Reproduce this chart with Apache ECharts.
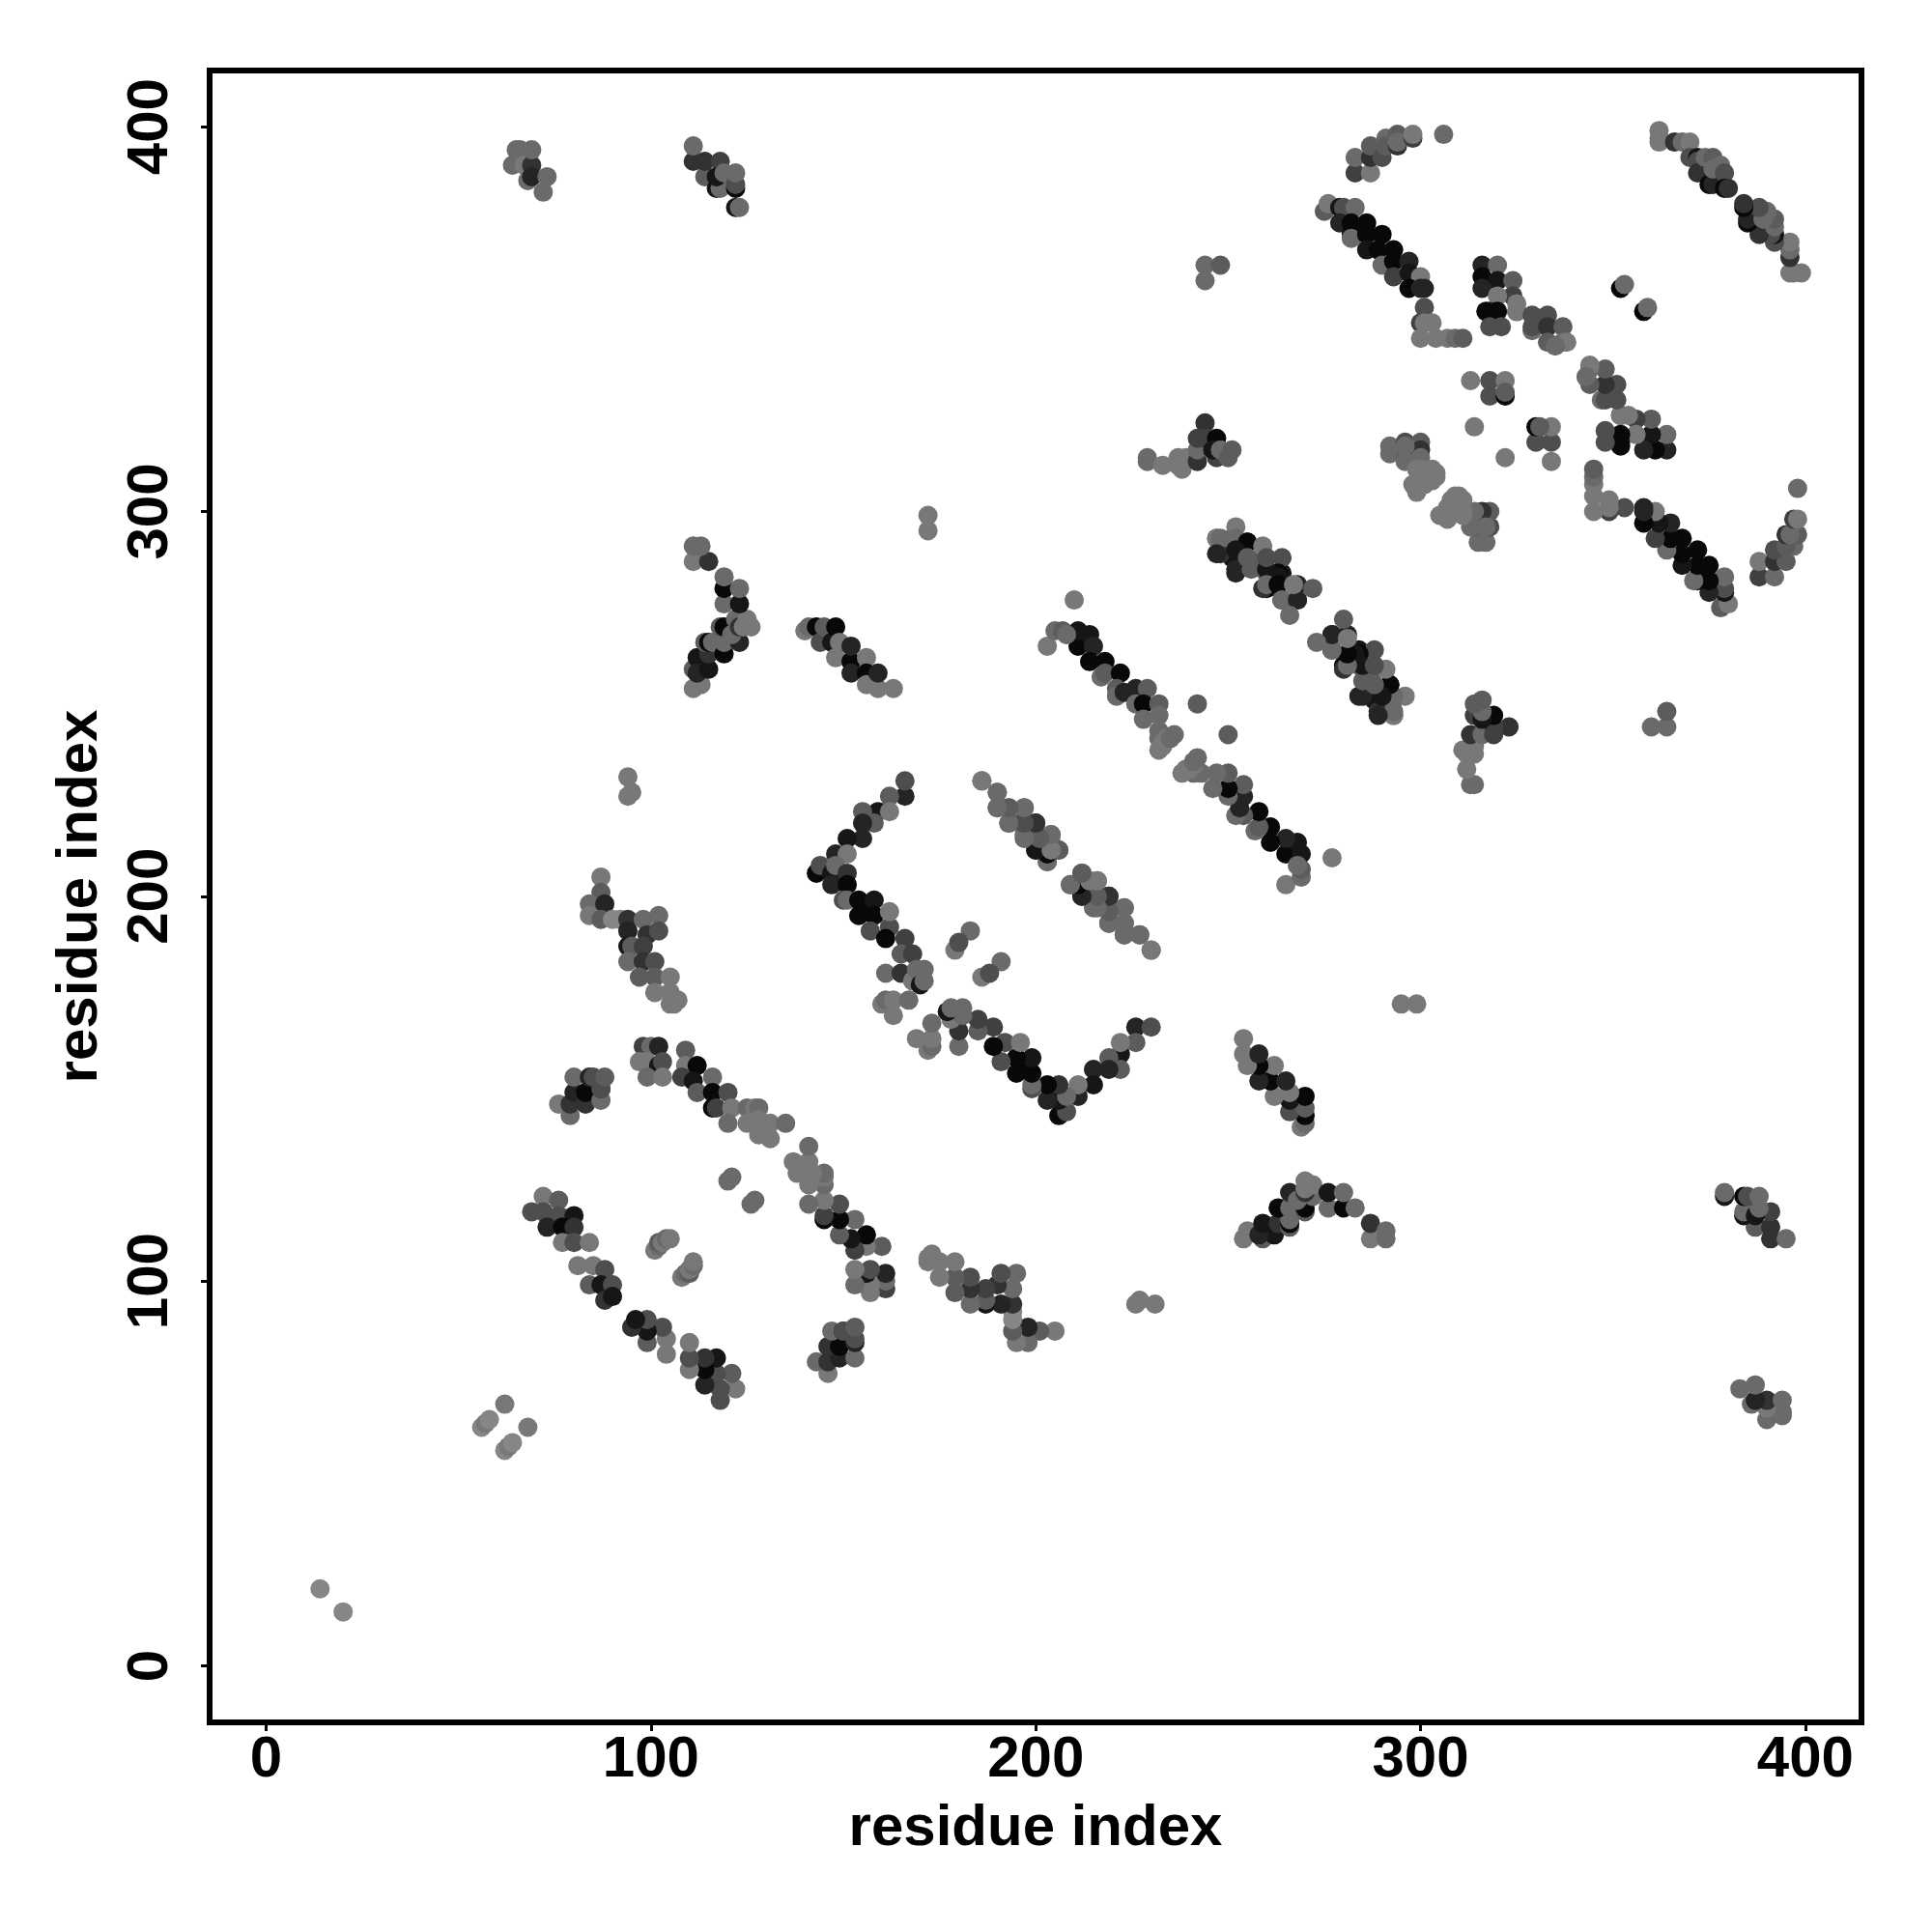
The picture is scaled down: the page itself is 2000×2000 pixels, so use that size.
<!DOCTYPE html>
<html><head><meta charset="utf-8">
<style>html,body{margin:0;padding:0;background:#fff}#c{width:2000px;height:2000px}</style>
<script src="https://cdn.jsdelivr.net/npm/echarts@6/dist/echarts.min.js"></script>
</head><body><div id="c"></div>
<script>
// Each contact: [residue i, residue j, score 0 (strong) .. 9 (weak)]. The map is symmetric; only i<j is listed.
const tickValues=[0,100,200,300,400];
const nTerm=[[14,20,9],[56,62,9],[57,63,8],[58,64,9],[62,68,8]];
const c64=[[64,390,7],[66,394,7],[65,394,7],[67,390,8],[68,386,7],[69,390,3],[69,394,7],[69,387,2],[72,383,7],[73,387,7]];
const c110=[[111,391,3],[111,395,7],[114,387,6],[114,391,3],[118,391,4],[117,384,1],[118,384,7],[117,387,1],[119,388,7],[122,384,0],[122,385,5],[122,388,7],[122,379,1],[123,379,7]];
const c94=[[94,231,8],[95,227,8],[94,226,8]];
const c84=[[87,205,8],[87,201,6],[84,198,7],[84,195,8],[88,198,2],[87,194,6],[90,194,9],[92,194,9],[94,194,3],[94,191,2],[94,187,1],[95,187,6],[94,183,7],[98,194,7],[102,195,7],[99,190,3],[102,191,5],[98,187,4],[98,183,3],[101,183,5],[97,179,6],[101,179,6],[105,179,8],[101,175,8],[105,175,8],[106,172,8],[105,172,8],[107,173,8]];
const c76=[[76,146,8],[79,143,7],[79,146,3],[80,149,2],[83,146,3],[83,149,0],[80,153,7],[84,153,2],[87,147,7],[87,150,1],[87,150,5],[85,153,5],[88,153,6]];
const c98=[[98,161,4],[100,161,7],[102,161,2],[97,157,8],[99,157,8],[102,156,1],[103,157,5],[99,153,7],[103,153,8]];
const c108=[[109,160,6],[109,156,8],[112,156,0],[108,153,4],[111,152,1],[116,153,7],[112,149,6],[116,149,0],[120,149,5],[116,145,0],[117,145,4],[121,145,8],[120,141,7],[125,145,7],[127,145,8],[128,145,7],[125,141,8],[127,141,8],[128,141,8],[128,142,8],[131,141,8],[135,141,7],[128,138,8],[131,137,8],[129,139,8],[130,139,8]];
const c68=[[69,118,5],[72,122,8],[76,121,6],[72,118,5],[76,117,5],[80,117,1],[73,114,2],[77,114,0],[80,114,3],[77,110,8],[80,110,5],[84,110,8],[81,104,8],[85,104,8],[88,103,5],[84,99,6],[87,99,1],[90,99,5],[88,95,3],[90,96,1]];
const c120=[[120,126,7],[121,127,7]];
const c101=[[101,108,8],[102,109,7],[102,110,6],[103,110,8],[104,111,7],[105,111,8]];
const c112=[[111,254,8],[113,255,8],[111,259,6],[112,262,1],[112,258,2],[115,259,1],[115,263,3],[114,266,6],[115,266,0],[116,266,7],[119,263,0],[119,266,7],[123,266,2],[118,270,6],[119,270,0],[122,270,1],[121,268,7],[122,272,7],[123,270,3],[124,270,8],[125,272,8],[126,270,8],[119,276,7],[123,276,1],[119,280,0],[123,280,7],[119,283,7],[111,287,8],[115,287,3],[111,291,7],[113,291,7]];
const c140=[[140,269,8],[141,270,7],[143,270,0],[144,266,5],[145,270,6],[147,266,1],[148,270,0],[149,266,8],[148,262,8],[152,261,0],[152,265,2],[156,262,8],[152,258,2],[156,258,0],[156,255,8],[159,254,8],[159,258,2],[163,254,8]];
const c172=[[172,295,8],[172,299,8]];
const c143=[[166,226,2],[166,230,5],[162,226,6],[159,222,1],[155,222,6],[158,219,6],[162,222,8],[155,219,2],[155,215,2],[151,215,1],[148,211,2],[151,211,8],[143,206,0],[144,208,5],[147,206,1],[148,208,7],[151,206,3],[147,203,2],[151,203,0],[150,199,5],[151,199,7],[154,199,0],[155,198,0],[158,199,1],[154,195,0],[158,195,0],[157,191,5],[162,192,5],[162,196,8],[161,189,0],[166,189,4],[165,185,6],[168,185,4],[161,180,7],[165,180,3],[168,178,8],[169,181,7],[171,181,7],[170,177,1],[171,178,7],[160,172,8],[161,173,7],[163,173,8],[167,173,7],[163,169,8]];
const c179=[[183,191,7],[179,186,8],[180,188,5]];
const c186=[[186,230,8],[190,227,7],[190,223,7],[193,223,7],[197,223,7],[193,219,7],[196,219,6],[200,219,3],[197,216,7],[200,216,6],[200,212,2],[203,211,0],[203,209,7],[204,214,8],[204,216,8],[206,212,6],[209,203,7],[212,206,6],[211,203,0],[212,200,1],[212,204,8],[216,204,7],[215,201,6],[219,200,3],[215,197,7],[219,197,5],[223,197,7],[219,193,7],[223,193,6],[223,190,7],[227,190,7],[230,186,8]];
const c203=[[203,265,8],[205,269,7],[207,269,6],[210,277,8],[211,265,0],[211,269,1],[214,268,1],[215,265,2],[214,261,0],[218,261,0],[217,257,7],[218,258,6],[222,258,0],[221,254,6],[221,252,7],[223,253,2],[226,254,2],[229,254,6],[226,250,7],[228,250,0],[232,250,6],[228,246,7],[232,247,7],[232,243,7],[232,241,7],[233,239,8],[232,238,8],[233,240,8],[234,241,8],[235,241,7],[236,242,7],[242,250,6],[208,268,7]];
const c247=[[247,293,8],[248,293,7],[247,289,2],[252,296,8],[252,293,7],[252,285,2],[255,292,0],[252,290,1],[256,285,6],[255,288,6],[260,285,1],[259,291,8],[260,288,5],[263,283,1],[259,280,3],[260,281,7],[263,281,0],[264,277,7],[268,277,2],[267,281,8],[266,273,7],[272,280,6]];
const c276=[[264,277,1],[268,281,2],[264,284,1],[268,277,2],[260,280,0],[260,284,6],[259,288,6],[264,288,5],[263,284,0],[252,284,2],[255,288,5],[252,288,2],[255,292,0],[251,288,1],[251,293,5],[248,289,3],[247,293,8]];
const c229=[[229,313,7],[229,314,7],[233,312,8],[237,314,8],[238,311,8],[237,312,8],[239,314,8],[242,313,3],[242,316,7],[244,323,3],[242,319,4],[244,319,4],[247,319,0],[247,314,4],[246,316,1],[248,316,7],[251,316,6],[250,314,6]];
const c244=[[244,364,7],[248,364,6],[244,360,7]];
const c292=[[292,315,7],[292,317,7],[296,318,5],[296,314,6],[300,318,6],[300,316,3],[300,314,7],[296,313,7],[296,317,7],[300,311,8],[299,311,8],[303,311,8],[298,307,8],[299,305,8],[299,307,8],[301,309,8],[301,307,8],[304,310,8],[303,308,8],[304,309,8]];
const c275=[[275,378,6],[276,380,8],[279,379,1],[280,379,5],[283,379,7],[279,375,2],[282,375,0],[286,375,0],[282,372,0],[282,371,7],[286,372,0],[290,372,0],[286,368,1],[289,368,0],[293,368,0],[290,364,7],[293,365,0],[297,365,2],[293,361,4],[297,362,1],[300,361,8],[297,358,0],[300,358,2],[301,358,2]];
const c283=[[283,388,4],[287,388,8],[283,392,7],[287,392,3],[287,395,6],[290,392,5],[291,397,7],[291,395,6],[294,398,6],[294,395,3],[294,396,7],[298,397,4],[298,398,8],[306,398,7]];
const c300=[[301,353,5],[300,349,4],[301,349,8],[303,349,8],[300,345,8],[304,345,8],[307,345,8],[309,345,7],[311,345,6]];
const c316=[[316,364,2],[320,364,7],[316,361,0],[320,360,1],[324,360,6],[316,358,2],[324,356,4],[320,356,8],[318,352,3],[317,352,0],[320,352,0],[325,352,1],[325,354,8],[325,352,8],[318,348,5],[321,348,5]];
const c329=[[329,351,5],[333,351,5],[329,347,7],[329,348,5],[333,348,3],[337,348,6],[333,344,6],[337,344,7],[338,344,8],[335,343,7]];
const c352=[[352,358,0],[353,359,7]];
const c313=[[313,334,8],[318,334,5],[322,334,8],[318,330,5],[322,330,0],[322,331,6],[314,322,8]];
const c362=[[362,399,8],[362,396,8],[362,397,8],[366,396,3],[368,396,7],[370,396,8],[370,392,5],[372,392,1],[372,391,5],[372,388,3],[374,389,3],[374,392,7],[376,392,6],[376,388,2],[375,385,0],[376,385,2],[376,389,7],[378,390,7],[379,388,5],[379,384,0],[380,384,3]];

const upper=[].concat(nTerm,c64,c110,c94,c84,c76,c98,c108,c68,c120,c101,c112,c140,c172,c143,c179,c186,c203,c276,c247,c229,c244,c292,c275,c283,c300,c316,c329,c352,c313,c362);
const contacts=upper.concat(upper.map(p=>[p[1],p[0],p[2]]));

const chart=echarts.init(document.getElementById('c'),null,{renderer:'canvas'});
const font='"Liberation Sans"';
function axis(extra){return Object.assign({type:'value',min:-14.7,max:414.6,splitLine:{show:false},
  axisLine:{show:false,onZero:false},
  axisTick:{show:true,length:9,inside:false,lineStyle:{color:'#000',width:3},customValues:tickValues},
  name:'residue index',nameLocation:'center',
  nameTextStyle:{fontFamily:font,fontWeight:'bold',fontSize:60,color:'#000'}},extra);}
chart.setOption({
  animation:false,backgroundColor:'#fff',
  grid:{left:217,top:73,width:1710,height:1710,show:true,borderColor:'#000',borderWidth:6,backgroundColor:'transparent',containLabel:false},
  xAxis:axis({nameGap:80,axisLabel:{customValues:tickValues,margin:9,fontFamily:font,fontWeight:'bold',fontSize:60,color:'#000'}}),
  yAxis:axis({nameGap:104,nameRotate:90,axisLabel:{customValues:tickValues,rotate:90,margin:61,fontFamily:font,fontWeight:'bold',fontSize:60,color:'#000',align:'center',verticalAlign:'middle'}}),
  series:[{type:'scatter',data:contacts,symbol:'circle',symbolSize:20,large:false,progressive:0,silent:true,clip:false,
    itemStyle:{opacity:1,color:function(p){const g=8+14*p.value[2];return 'rgb('+g+','+g+','+g+')';}}}]
});
</script></body></html>
